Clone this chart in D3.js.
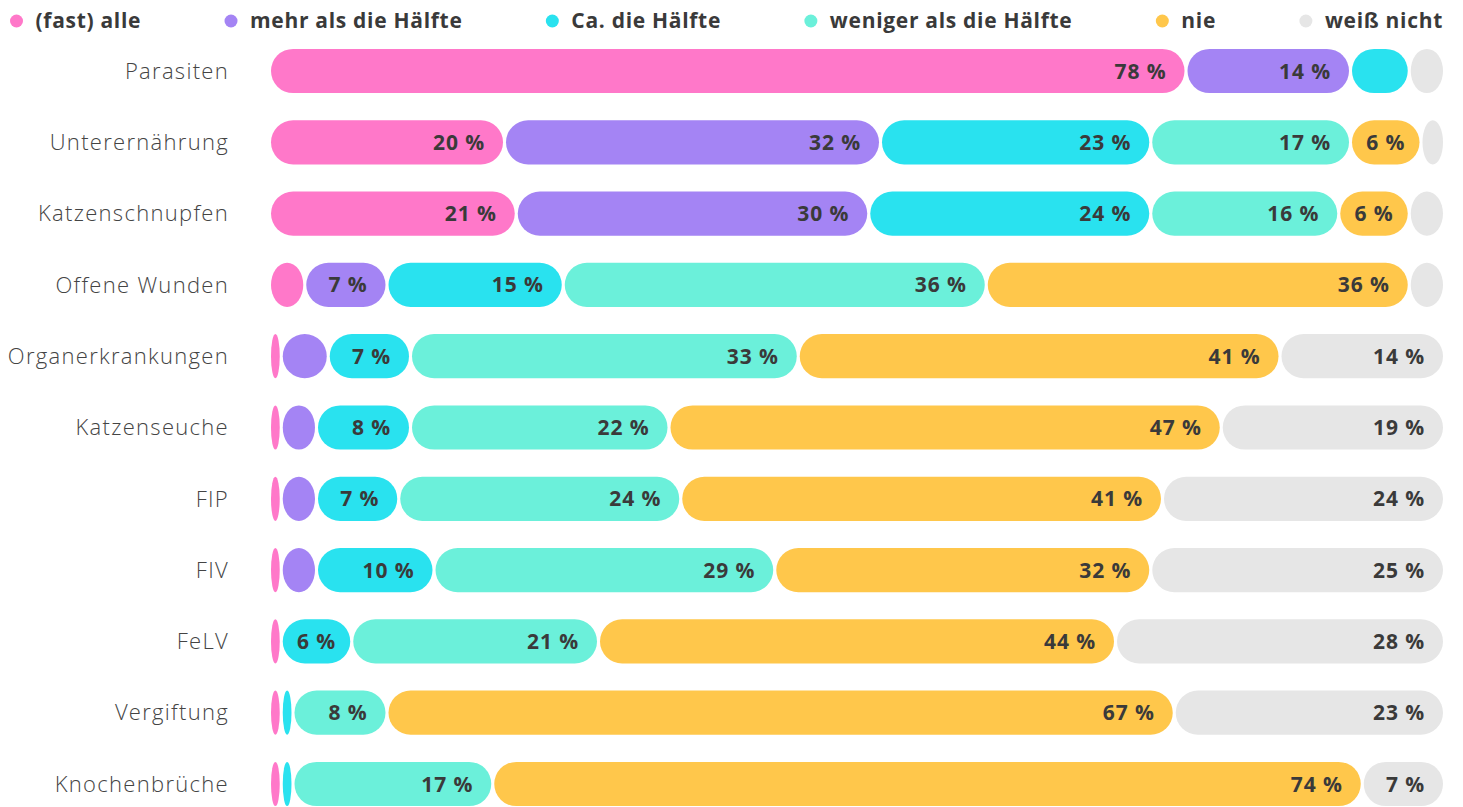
<!DOCTYPE html>
<html>
<head>
<meta charset="utf-8">
<script src="https://cdn.jsdelivr.net/npm/d3@7"></script>
<style>
  body { margin: 0; background: #fff; }
  svg { display: block; font-family: "Open Sans", Lato, sans-serif; }
</style>
</head>
<body>
<svg id="chart" width="1463" height="807"></svg>
<script>
// answer options (stack order) and their colours
const answers = ["(fast) alle", "mehr als die Hälfte", "Ca. die Hälfte", "weniger als die Hälfte", "nie", "weiß nicht"];
const colours = ["#ff78c9", "#a484f4", "#29e2ef", "#6bf0da", "#ffc74b", "#e6e6e6"];

const categories = ["Parasiten", "Unterernährung", "Katzenschnupfen", "Offene Wunden", "Organerkrankungen",
  "Katzenseuche", "FIP", "FIV", "FeLV", "Vergiftung", "Knochenbrüche"];

// percent per answer, same order as answers
const alle      = [78, 20, 21, 3, 1, 1, 1, 1, 1, 1, 1];
const mehr      = [14, 32, 30, 7, 4, 3, 3, 3, 0, 0, 0];
const haelfte   = [5, 23, 24, 15, 7, 8, 7, 10, 6, 1, 1];
const weniger   = [0, 17, 16, 36, 33, 22, 24, 29, 21, 8, 17];
const nie       = [0, 6, 6, 36, 41, 47, 41, 32, 44, 67, 74];
const weissNich = [3, 2, 3, 3, 14, 19, 24, 25, 28, 23, 7];

const series = [alle, mehr, haelfte, weniger, nie, weissNich];
const minLabel = 6; // smaller segments stay unlabeled

const svg = d3.select("#chart");
const gap = 3;

const x = d3.scaleLinear().domain([0, 100]).range([271, 1446]);
const y = d3.scaleBand().domain(categories).range([35.35, 819.65])
  .paddingInner(0.38).paddingOuter(0.19);

// rows as objects for d3.stack
const rows = categories.map((c, i) => {
  const r = { cat: c };
  answers.forEach((a, j) => { r[a] = series[j][i]; });
  return r;
});
const stacked = d3.stack().keys(answers)(rows);

// category labels
svg.append("g").selectAll("text")
  .data(categories).join("text")
  .attr("x", 229)
  .attr("y", d => y(d) + y.bandwidth() / 2)
  .attr("dy", "0.35em")
  .attr("text-anchor", "end")
  .attr("font-size", 22)
  .attr("font-weight", 300)
  .attr("letter-spacing", 1.3)
  .attr("fill", "#444")
  .text(d => d);

const h = y.bandwidth();
const layers = svg.append("g").selectAll("g")
  .data(stacked).join("g")
  .attr("fill", (d, i) => colours[i]);

const segs = layers.selectAll("g")
  .data(d => d.filter(s => s[1] - s[0] > 0).map(s => ({ s, key: d.key })))
  .join("g");

segs.append("rect")
  .attr("x", d => x(d.s[0]))
  .attr("y", d => y(d.s.data.cat))
  .attr("width", d => Math.max(0, x(d.s[1]) - x(d.s[0]) - gap))
  .attr("height", h)
  .attr("rx", h / 2)
  .attr("ry", h / 2);

segs.filter(d => d.s[1] - d.s[0] >= minLabel)
  .append("text")
  .attr("y", d => y(d.s.data.cat) + h / 2)
  .attr("dy", "0.36em")
  .attr("text-anchor", "end")
  .attr("font-size", 21)
  .attr("font-weight", 700)
  .attr("letter-spacing", 0.9)
  .attr("fill", "#3a3a3a")
  .text(d => (d.s[1] - d.s[0]) + " %")
  .attr("x", function (d) {
    const x0 = x(d.s[0]), x1 = x(d.s[1]) - gap;
    const tw = this.getComputedTextLength();
    const pad = Math.min(18, (x1 - x0 - tw) / 2);
    return x1 - pad;
  });

// legend, spread across the top
const legend = svg.append("g");
const items = legend.selectAll("g").data(answers).join("g");
items.append("circle").attr("r", 6.5).attr("cy", 21).attr("fill", (d, i) => colours[i]);
items.append("text")
  .attr("x", 19).attr("y", 21).attr("dy", "0.35em")
  .attr("font-size", 21).attr("font-weight", 700).attr("letter-spacing", 0.7)
  .attr("fill", "#3a3a3a")
  .text(d => d);

const widths = [];
items.each(function () { widths.push(this.getBBox().width); });
const left = 10, right = 1443;
const space = (right - left - d3.sum(widths)) / (answers.length - 1);
let cur = left;
items.attr("transform", (d, i) => {
  const t = `translate(${cur + 6.5},0)`;
  cur += widths[i] + space;
  return t;
});
</script>
</body>
</html>
